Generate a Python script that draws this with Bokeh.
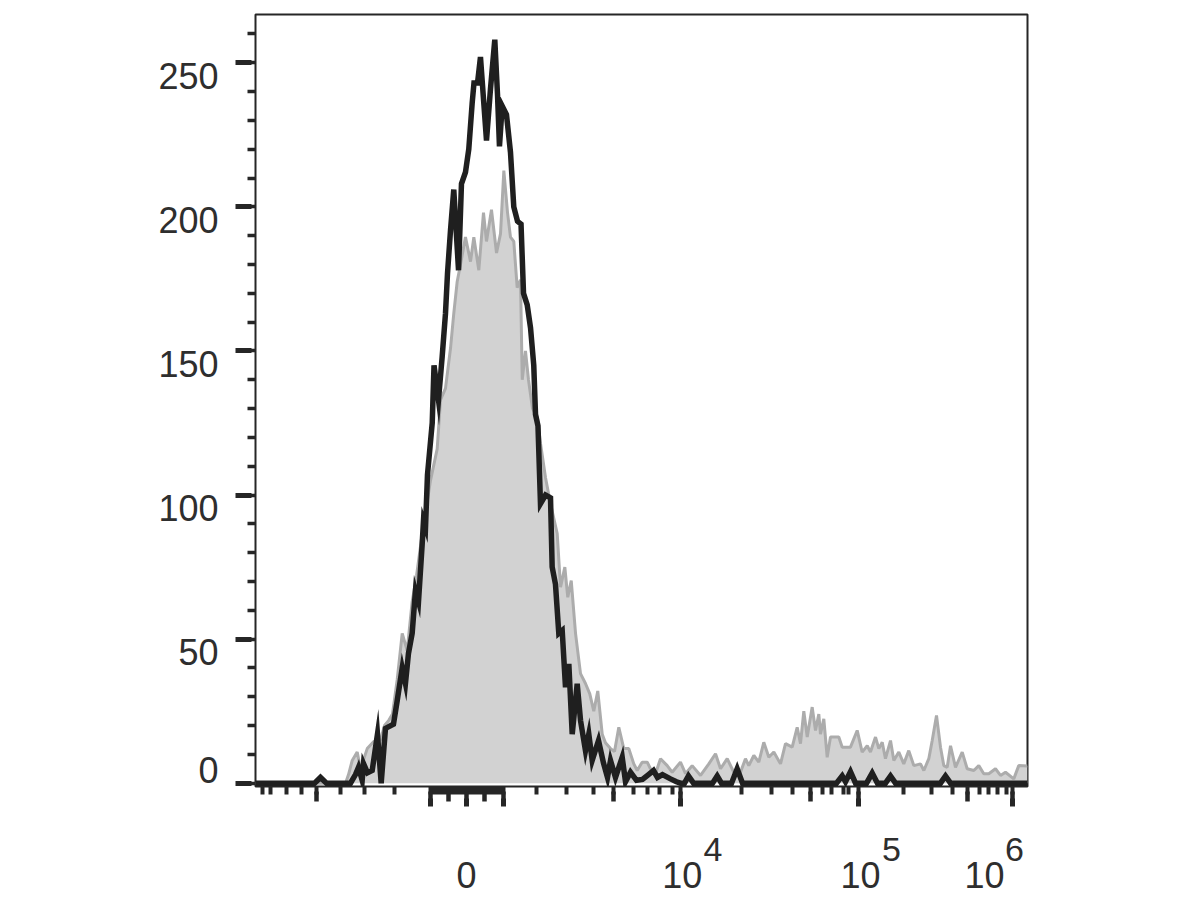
from bokeh.plotting import figure
from bokeh.models import Range1d, LinearAxis, FixedTicker
from bokeh.embed import file_html
from bokeh.resources import INLINE

# ---------------- data (display channel 0..1024, event counts) ----------------
black_x = [0, 78.3, 86.2, 94.2, 126.0, 132.6, 136.6, 141.5, 143.3, 148.6, 154.8, 161.8, 166.7,
           172.4, 183.0, 188.0, 194.6, 198.9, 202.9, 207.8, 212.2, 216.2, 221.1, 222.8, 225.5,
           228.1, 234.4, 236.8, 242.7, 247.6, 252.0, 254.7, 258.7, 263.0, 269.3, 273.2, 278.5,
           282.9, 287.4, 289.8, 294.5, 298.4, 306.4, 311.7, 317.4, 321.0, 323.6, 327.2, 332.9,
           338.2, 342.6, 347.5, 352.2, 355.5, 360.4, 364.8, 369.1, 371.4, 374.7, 378.0, 384.7,
           391.3, 393.5, 397.9, 402.3, 406.8, 411.2, 415.6, 420.1, 426.7, 431.1, 437.7, 442.1,
           446.6, 455.0, 461.6, 466.9, 470.9, 477.5, 486.4, 490.8, 497.4, 505.4, 513.3, 521.3,
           527.9, 533.2, 539.8, 550.5, 558.4, 563.7, 569.0, 574.3, 581.0, 606.2, 612.4, 618.1,
           631.4, 638.9, 646.0, 770.6, 778.2, 782.6, 789.2, 795.9, 810.5, 818.0, 825.0, 835.6,
           842.3, 848.9, 908.6, 915.2, 921.9, 1024.0]
black_y = [0, 0, 2, 0, 0, 3, 5.5, 1, 6.8, 3.6, 4.4, 17, 0,
           19, 20.5, 28.7, 40, 34.6, 45, 52, 66.8, 63, 83, 91, 88.8,
           107, 125, 145, 133, 148, 163, 177, 192, 206, 178, 208, 212,
           220, 236, 243, 243, 252, 223, 241, 258, 239, 221, 235, 232,
           219, 200, 195, 194, 170, 166, 158, 145, 128, 124, 97, 100,
           99, 75, 69, 52, 53, 33.3, 41.4, 17, 34.5, 21.8, 11.3, 17,
           7.9, 14.8, 7, 2, 7.9, 2, 9, 0.5, 3.8, 1, 1.3, 3,
           4.4, 2, 3, 1.5, 0.5, 0, 0, 2.5, 0, 0, 2.5, 0,
           0, 5, 0, 0, 2.5, 0.5, 4, 0, 0, 3.5, 0, 0,
           2.5, 0, 0, 2.5, 0, 0]

gray_x = [0, 119.4, 123.4, 128.3, 134.9, 139.3, 148.2, 156.9, 165.8, 171.1, 176.8, 181.7, 188.0,
          194.6, 201.2, 207.8, 213.6, 221.1, 226.8, 232.1, 241.0, 245.4, 252.0, 258.7, 263.0,
          267.5, 271.9, 278.5, 285.2, 289.6, 296.2, 302.4, 306.4, 313.0, 319.7, 325.0, 329.4,
          334.3, 338.2, 342.6, 347.1, 351.5, 353.8, 358.1, 362.1, 367.4, 373.7, 378.0, 384.7,
          391.3, 400.2, 404.6, 410.3, 414.2, 418.8, 424.5, 431.1, 437.7, 443.4, 448.7, 454.0,
          459.9, 464.2, 470.9, 476.2, 481.9, 488.5, 495.2, 501.8, 506.3, 512.9, 519.6, 523.9,
          530.6, 537.2, 546.1, 552.7, 563.7, 570.4, 579.2, 590.3, 601.3, 610.2, 616.8, 625.7,
          634.4, 643.3, 649.9, 654.3, 661.0, 667.6, 674.2, 680.9, 687.5, 696.4, 703.0, 711.9,
          718.5, 722.9, 727.3, 731.8, 738.4, 742.8, 747.2, 749.4, 753.8, 758.3, 762.7, 773.7,
          778.2, 789.2, 798.1, 804.7, 811.4, 815.7, 822.4, 826.8, 831.3, 835.6, 842.3, 846.7,
          853.3, 859.9, 866.5, 873.2, 882.1, 886.5, 893.1, 897.6, 903.3, 908.6, 913.0, 917.5,
          921.9, 928.5, 937.4, 944.0, 952.8, 959.4, 966.0, 972.7, 981.5, 988.2, 994.8, 1005.8,
          1012.4, 1024.0]
gray_y = [0, 0, 3, 7.9, 10.8, 5, 12, 14.5, 15, 20, 21.8, 24, 36,
          52, 46, 63, 72, 86.6, 96, 105, 116, 133, 137, 151, 163,
          174, 180, 189.5, 181, 189.5, 178, 198, 188, 199, 184, 190.7, 212.6,
          198, 189.5, 188, 172, 174.7, 140, 150, 140, 130, 127, 118, 106,
          97, 86.6, 68, 75, 64.5, 70.3, 52, 38, 34.6, 31, 25, 32,
          17, 14, 12, 11, 19.4, 12, 12, 6.7, 4.4, 7.3, 7.3, 5,
          3.3, 8.5, 6.1, 3.8, 7.3, 3.3, 6.1, 2.7, 6.7, 10.2, 5, 8.5,
          3.8, 3.8, 8.5, 6.1, 9.6, 7.3, 14.2, 9, 10.8, 6.7, 13.7, 12.5,
          19.4, 13.7, 25, 16, 26.4, 18.3, 24, 17, 22.3, 9, 16, 16,
          12.5, 12.5, 18.3, 10.8, 13, 10.8, 16, 12, 14.2, 8.5, 14.8, 7.9,
          10.8, 6.7, 11.3, 6.1, 6.7, 4.4, 8.5, 14.8, 23.5, 12.5, 6.1, 5.5,
          13, 5.5, 10.8, 5, 4.4, 6.1, 3.3, 3.3, 5, 2.7, 3.8, 1.5,
          6.1, 6.0]

# ---------------- axis ticks and labels ----------------
x_ticks_decade = [231.5, 279.9, 328.3, 563.7, 799.8, 1004.1]
x_ticks_five = [80.5, 255.7, 304.1, 474.9, 736.2, 944.0]
x_ticks_small = [8.9, 19.9, 40.7, 60.6, 112.7, 144.6, 184.8,
                 236.3, 241.1, 246.0, 250.8, 260.5, 265.4, 270.2, 275.1,
                 284.8, 289.6, 294.4, 299.2, 308.9, 313.8, 318.6, 323.5,
                 372.7, 412.5, 447.9, 501.0, 520.0, 535.9, 553.1,
                 644.2, 684.4, 712.3, 752.1, 764.0, 779.9, 786.5,
                 859.5, 896.3, 924.1, 960.3, 971.9, 983.8, 995.8]
x_label_pos = [279.9, 566.1, 802.5, 967.1]
x_label_text = ["0", "10", "10", "10"]
x_exp_pos = [606.8, 843.6, 1006.8]
x_exp_text = ["4", "5", "6"]

y_ticks_major = [0, 50, 100, 150, 200, 250]
y_ticks_minor = [10, 20, 30, 40, 60, 70, 80, 90, 110, 120, 130, 140, 160, 170, 180, 190,
                 210, 220, 230, 240, 260]
y_label_pos = [4.7, 45.5, 95.6, 145.4, 195.4, 245.4]
y_label_text = ["0", "50", "100", "150", "200", "250"]

INK = "#262626"
TXT = "#2e2e2e"
FONT = "Liberation Sans"

X0, X1 = 0, 1024
Y0, Y1 = -1.15, 266.75

p = figure(frame_width=772, frame_height=772,
           x_range=Range1d(X0, X1), y_range=Range1d(Y0, Y1),
           x_axis_type=None, y_axis_type=None,
           toolbar_location=None, output_backend="svg",
           min_border_left=255, min_border_right=165,
           min_border_top=14, min_border_bottom=114)
p.outline_line_color = INK
p.outline_line_width = 2
p.background_fill_color = "white"
p.border_fill_color = "white"

# histograms
p.varea(x=gray_x, y1=0, y2=gray_y, fill_color="#d2d2d2")
p.line(gray_x, gray_y, line_color="#acacac", line_width=3)
p.line(black_x, black_y, line_color="#1f1f1f", line_width=5.5, line_join="miter")


def tick_layer(side, ticks, length, width, back=0):
    """An unlabeled axis that only draws tick marks; stacked layers build long ticks."""
    ax = LinearAxis(ticker=FixedTicker(ticks=[], minor_ticks=ticks),
                    axis_line_color=None, major_tick_line_color=None,
                    minor_tick_out=length, minor_tick_in=back,
                    minor_tick_line_width=width, minor_tick_line_color=INK)
    p.add_layout(ax, side)


def label_axis(side, pos, texts, standoff, size):
    ax = LinearAxis(ticker=FixedTicker(ticks=pos, minor_ticks=[]),
                    major_label_overrides=dict(zip(pos, texts)),
                    major_tick_out=0, major_tick_in=0, major_tick_line_color=None,
                    minor_tick_line_color=None, axis_line_color=None,
                    major_label_standoff=standoff,
                    major_label_text_font=FONT, major_label_text_font_size=size,
                    major_label_text_color=TXT)
    p.add_layout(ax, side)


# ---------------- y axis (ticks 8 px minor, 20 px major) ----------------
tick_layer("left", y_ticks_major + y_ticks_minor, 8, 3.5)
tick_layer("left", y_ticks_major, 12, 5, back=4)
label_axis("left", y_label_pos, y_label_text, 17, "36px")

# ---------------- x axis (ticks 8 / 15 / 20 px) ----------------
tick_layer("below", x_ticks_small + x_ticks_five + x_ticks_decade, 8, 4)
tick_layer("below", x_ticks_five + x_ticks_decade, 7, 4.5, back=3)
tick_layer("below", x_ticks_decade, 5, 5, back=3)
label_axis("below", x_exp_pos, x_exp_text, 31, "34px")
label_axis("below", x_label_pos, x_label_text, -2, "36px")

open("out.html", "w").write(file_html(p, INLINE))
